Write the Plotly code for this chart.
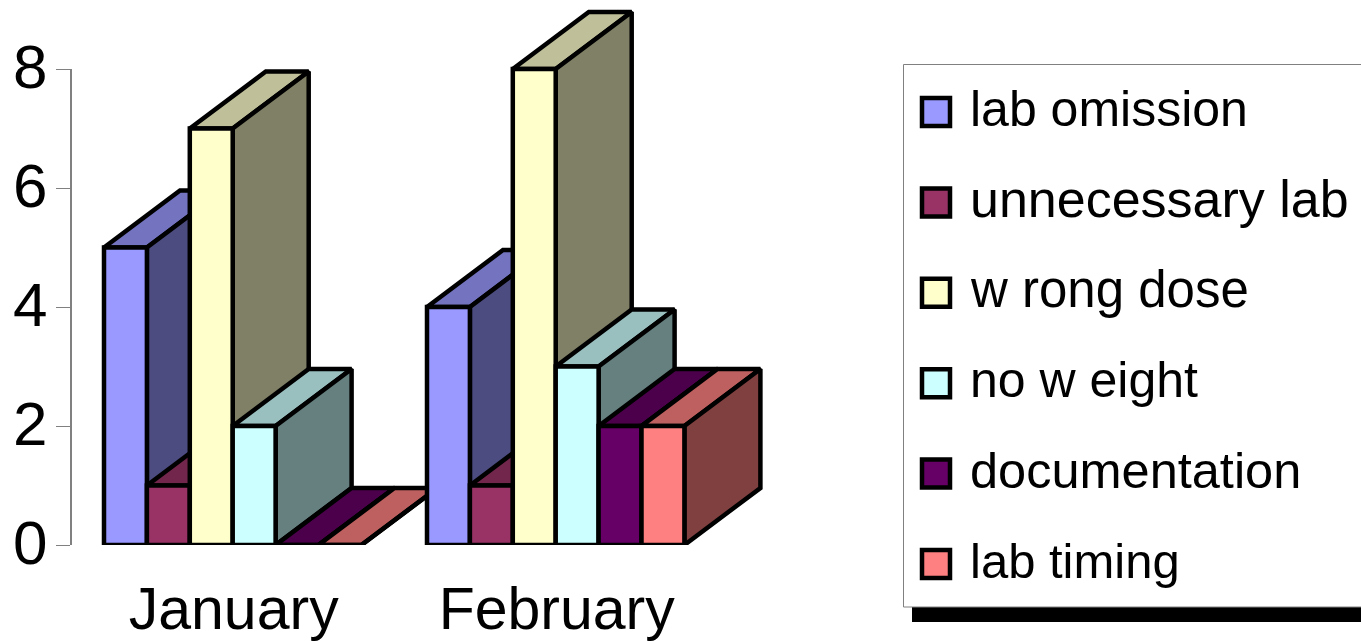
import plotly.graph_objects as go

# Monthly error counts per category
months = ["January", "February"]
series_names = ["lab omission", "unnecessary lab", "w rong dose",
                "no w eight", "documentation", "lab timing"]
lab_omission = [5, 4]
unnecessary_lab = [1, 1]
wrong_dose = [7, 8]
no_weight = [2, 3]
documentation = [0, 2]
lab_timing = [0, 2]
series_values = [lab_omission, unnecessary_lab, wrong_dose,
                 no_weight, documentation, lab_timing]
series_colors = ["#9999FF", "#993366", "#FFFFCC", "#CCFFFF", "#660066", "#FF8080"]
legend_font_sizes = [50, 52, 51, 50, 50.5, 49]
y_ticks = [0, 2, 4, 6, 8]

FIG_W, FIG_H = 1361, 642
FONT = "Liberation Sans, Arial, sans-serif"
OUTLINE = 4.5

# Plot box in pixels: value 0 sits on row 545, value 8 on row 69.
# The box runs to the top edge so the bars' depth faces are not cut off.
PLOT_L, PLOT_R, PLOT_T, PLOT_B = 71, 800, 0, 545
UNIT_PX = (545 - 69) / 8           # pixels per count
BAR_PX = 42.9                      # one bar width, the unit of the x axis
DEPTH_X = 76 / BAR_PX              # oblique depth, in bar widths
DEPTH_Y = 57 / UNIT_PX             # oblique depth, in value units
GROUP_START = [(104 - PLOT_L) / BAR_PX, (427 - PLOT_L) / BAR_PX]


def fx(px):
    return px / FIG_W


def fy(px):
    return 1 - px / FIG_H


def shade(color, factor):
    channels = [int(color[i:i + 2], 16) for i in (1, 3, 5)]
    return "rgb({},{},{})".format(*[round(c * factor) for c in channels])


def face(xs, ys, fill):
    return go.Scatter(
        x=xs, y=ys, mode="lines", fill="toself", fillcolor=fill,
        line=dict(color="black", width=OUTLINE), cliponaxis=False,
        hoverinfo="skip", showlegend=False,
    )


fig = go.Figure()

# Bars go left to right, so each one overlaps the depth faces of its neighbour
for g, start in enumerate(GROUP_START):
    for s, values in enumerate(series_values):
        v = values[g]
        x0, x1 = start + s, start + s + 1
        color = series_colors[s]
        fig.add_trace(face(
            [x0, x1, x1 + DEPTH_X, x0 + DEPTH_X, x0],
            [v, v, v + DEPTH_Y, v + DEPTH_Y, v],
            shade(color, 0.75)))
        fig.add_trace(face(
            [x1, x1 + DEPTH_X, x1 + DEPTH_X, x1, x1],
            [0, DEPTH_Y, v + DEPTH_Y, v, 0],
            shade(color, 0.5)))
        fig.add_trace(face(
            [x0, x1, x1, x0, x0],
            [0, 0, v, v, 0],
            color))

# Value axis line stops at the top tick, below the head room of the plot box
shapes = [
    dict(type="line", xref="paper", yref="y",
         x0=fx(PLOT_L), x1=fx(PLOT_L), y0=y_ticks[0], y1=y_ticks[-1],
         line=dict(color="#808080", width=2)),
]

# Legend panel: drop shadow, box, swatches and labels
shapes += [
    dict(type="rect", xref="paper", yref="paper", layer="below",
         x0=fx(912), x1=1.01, y0=fy(622), y1=fy(607),
         fillcolor="black", line=dict(width=0)),
    dict(type="rect", xref="paper", yref="paper", layer="below",
         x0=fx(903.5), x1=1.01, y0=fy(607), y1=fy(64.5),
         fillcolor="white", line=dict(color="#808080", width=1)),
]
annotations = []
ROW_STEP = 90.4
for i, (name, color) in enumerate(zip(series_names, series_colors)):
    top = 98 + i * ROW_STEP
    shapes.append(dict(
        type="rect", xref="paper", yref="paper",
        x0=fx(922), x1=fx(950), y0=fy(top + 28), y1=fy(top),
        fillcolor=color, line=dict(color="black", width=OUTLINE)))
    annotations.append(dict(
        xref="paper", yref="paper", x=fx(968), y=fy(top + 11),
        text=name, showarrow=False, xanchor="left", yanchor="middle",
        font=dict(family=FONT, size=legend_font_sizes[i], color="black")))

fig.update_layout(
    width=FIG_W, height=FIG_H,
    margin=dict(l=0, r=0, t=0, b=0, pad=0),
    paper_bgcolor="white", plot_bgcolor="rgba(0,0,0,0)",
    showlegend=False, shapes=shapes, annotations=annotations,
    xaxis=dict(
        automargin=False,
        domain=[fx(PLOT_L), fx(PLOT_R)],
        range=[0, (PLOT_R - PLOT_L) / BAR_PX],
        tickmode="array",
        tickvals=[start + 3 for start in GROUP_START],
        ticktext=months,
        ticks="", showgrid=False, zeroline=False, showline=False,
        ticklabelstandoff=24,
        ticklabelshift=1,
        tickfont=dict(family=FONT, size=59, color="black"),
    ),
    yaxis=dict(
        automargin=False,
        domain=[fy(PLOT_B), fy(PLOT_T)],
        range=[0, (PLOT_B - PLOT_T) / UNIT_PX],
        tickmode="array", tickvals=y_ticks,
        ticks="outside", ticklen=14, tickwidth=1, tickcolor="#808080",
        showline=False, showgrid=False, zeroline=False,
        ticklabelstandoff=-4,
        ticklabelshift=-3,
        tickfont=dict(family=FONT, size=62, color="black"),
    ),
)

fig.write_html("out.html", config=dict(displayModeBar=False))
